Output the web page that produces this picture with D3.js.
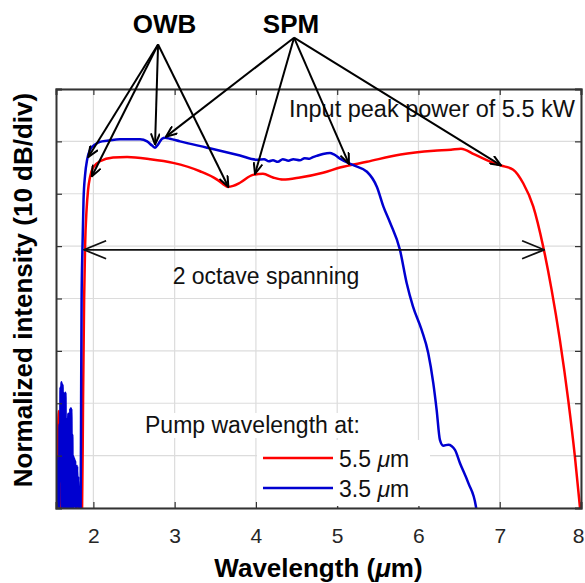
<!DOCTYPE html>
<html>
<head>
<meta charset="utf-8">
<script src="https://cdn.jsdelivr.net/npm/d3@7"></script>
<style>
  body { margin: 0; background: #fff; }
  text { font-family: Arial, "Liberation Sans", sans-serif; }
</style>
</head>
<body>
<div id="chart"></div>
<script>
// Axis ticks
const xTicks = [2, 3, 4, 5, 6, 7, 8];
const yTicks = [0, -10, -20, -30, -40, -50, -60, -70, -80];

// Spectrum for 5.5 um pump, [wavelength (um), intensity (dB)]
const redSeries = [
  [1.53, -80], [1.55, -80], [1.565, -66], [1.575, -61.5], [1.585, -75], [1.60, -80],
  [1.62, -77], [1.635, -80], [1.66, -78], [1.68, -80], [1.72, -80], [1.76, -78],
  [1.80, -80], [1.84, -80], [1.861, -80], [1.873, -59.4], [1.886, -40.3], [1.898, -30.0],
  [1.916, -23.1], [1.935, -19.2], [1.959, -16.8], [1.996, -15.0], [2.082, -13.8],
  [2.242, -13.1], [2.415, -13.0], [2.697, -13.4], [2.980, -14.1], [3.312, -15.7],
  [3.522, -17.3], [3.60, -18.2], [3.657, -18.7], [3.72, -18.5], [3.804, -17.9],
  [3.964, -16.4], [4.087, -16.2], [4.210, -16.9], [4.333, -17.3], [4.542, -16.9],
  [4.825, -16.0], [5.034, -15.0], [5.366, -13.9], [5.781, -12.5], [6.191, -11.8],
  [6.40, -11.6], [6.523, -11.4], [6.689, -12.5], [6.892, -13.9], [7.015, -14.6],
  [7.166, -15.4], [7.289, -18.0], [7.412, -22.4], [7.535, -30.1], [7.638, -38.3],
  [7.740, -47.9], [7.843, -59.4], [7.925, -70.2], [7.986, -79.7], [8.02, -85]
];

// Spectrum for 3.5 um pump
const blueSeries = [
  [1.53, -78], [1.536, -62], [1.542, -80], [1.548, -70], [1.554, -80], [1.560, -72],
  [1.566, -78], [1.572, -71], [1.578, -80], [1.584, -64], [1.590, -75], [1.596, -57],
  [1.602, -72], [1.608, -56], [1.614, -80], [1.620, -56.5], [1.626, -70], [1.632, -58],
  [1.638, -80], [1.644, -59], [1.650, -72], [1.656, -58], [1.662, -80], [1.668, -63],
  [1.674, -80], [1.680, -64], [1.686, -76], [1.692, -62], [1.698, -80], [1.704, -62],
  [1.710, -74], [1.716, -61], [1.722, -80], [1.728, -61], [1.734, -72], [1.740, -66],
  [1.746, -80], [1.752, -70], [1.758, -80], [1.764, -70.5], [1.770, -78], [1.776, -71],
  [1.782, -80], [1.788, -72], [1.794, -80], [1.800, -72], [1.806, -78], [1.812, -74],
  [1.818, -80], [1.824, -76], [1.830, -80], [1.843, -80], [1.849, -59.4], [1.855, -40.3],
  [1.865, -30.7], [1.879, -21.1], [1.898, -16.4], [1.923, -13.5], [1.959, -11.6],
  [2.021, -10.6], [2.082, -10.1], [2.169, -9.9], [2.328, -9.6], [2.574, -9.6],
  [2.661, -10.0], [2.722, -10.8], [2.759, -11.2], [2.796, -10.6], [2.845, -9.5],
  [2.882, -9.3], [2.943, -9.5], [3.066, -10.0], [3.398, -11.2], [3.804, -12.7],
  [4.013, -13.5], [4.10, -13.4], [4.16, -13.8], [4.21, -13.6], [4.27, -13.9],
  [4.33, -13.4], [4.40, -13.7], [4.46, -13.4], [4.54, -13.6], [4.60, -13.2],
  [4.66, -13.3], [4.702, -13.0], [4.76, -12.7], [4.825, -12.4], [4.911, -12.2],
  [4.96, -12.5], [5.034, -13.3], [5.206, -14.6], [5.366, -15.8], [5.489, -18.7],
  [5.57, -22.5], [5.65, -25.5], [5.772, -30.7], [5.854, -37.0], [5.932, -41.5],
  [6.039, -46.0], [6.120, -50.4], [6.182, -56.1], [6.224, -61.3], [6.264, -67.0],
  [6.305, -68.1], [6.367, -67.9], [6.449, -68.9], [6.510, -71.4], [6.613, -75.2],
  [6.707, -79.7], [6.75, -85]
];

// Annotation arrows (data coords)
const owbOrigin = [2.796, 8.5];
const owbTips = [[1.938, -13.0], [1.980, -16.7], [2.759, -10.6], [3.661, -18.7]];
const spmOrigin = [4.469, 9.8];
const spmTips = [[2.894, -9.1], [3.989, -16.2], [5.145, -14.3], [7.015, -14.6]];
const spanEnds = [[1.886, -30.7], [7.546, -30.7]];

const legendLabels = ['5.5', '3.5'];

const W = 585, H = 583;
const margin = { top: 89, right: 4, bottom: 75, left: 56 };
const width = W - margin.left - margin.right;
const height = H - margin.top - margin.bottom;

const svg = d3.select('#chart').append('svg')
  .attr('width', W)
  .attr('height', H);

svg.append('rect').attr('width', W).attr('height', H).attr('fill', '#fff');

const defs = svg.append('defs');
defs.append('clipPath').attr('id', 'plot-clip')
  .append('rect').attr('width', width).attr('height', height);

// small open arrow head
defs.append('marker')
  .attr('id', 'head')
  .attr('viewBox', '0 0 13 10')
  .attr('refX', 12).attr('refY', 5)
  .attr('markerWidth', 13).attr('markerHeight', 10)
  .attr('markerUnits', 'userSpaceOnUse')
  .attr('orient', 'auto')
  .append('path')
  .attr('d', 'M1,0.5 L12,5 L1,9.5')
  .attr('fill', 'none').attr('stroke', '#000').attr('stroke-width', 2);

// bigger head for the span arrow
defs.append('marker')
  .attr('id', 'bighead')
  .attr('viewBox', '0 0 24 20')
  .attr('refX', 23).attr('refY', 10)
  .attr('markerWidth', 24).attr('markerHeight', 20)
  .attr('markerUnits', 'userSpaceOnUse')
  .attr('orient', 'auto-start-reverse')
  .append('path')
  .attr('d', 'M1,1 L23,10 L1,19')
  .attr('fill', 'none').attr('stroke', '#111').attr('stroke-width', 1.8);

const g = svg.append('g')
  .attr('transform', `translate(${margin.left},${margin.top})`);

const x = d3.scaleLinear().domain([1.54, 8]).range([0, width]);
const y = d3.scaleLinear().domain([-80, 0]).range([height, 0]);

// grid
g.append('g')
  .selectAll('line.vg')
  .data(xTicks)
  .join('line')
  .attr('x1', d => x(d)).attr('x2', d => x(d))
  .attr('y1', 0).attr('y2', height)
  .attr('stroke', '#dcdcdc').attr('stroke-width', 1.2);

g.append('g')
  .selectAll('line.hg')
  .data(yTicks)
  .join('line')
  .attr('x1', 0).attr('x2', width)
  .attr('y1', d => y(d)).attr('y2', d => y(d))
  .attr('stroke', '#dcdcdc').attr('stroke-width', 1.2);

// curves
const line = d3.line()
  .x(d => x(d[0]))
  .y(d => y(d[1]))
  .curve(d3.curveMonotoneX);

const plot = g.append('g').attr('clip-path', 'url(#plot-clip)');
plot.append('path').datum(redSeries)
  .attr('d', line).attr('fill', 'none')
  .attr('stroke', '#ff0000').attr('stroke-width', 2.5);
plot.append('path').datum(blueSeries)
  .attr('d', line).attr('fill', 'none')
  .attr('stroke', '#0000d0').attr('stroke-width', 2.5);

// axes box, ticks inward
const tickLen = 6;
const xAxisB = d3.axisBottom(x).tickValues(xTicks).tickSize(-tickLen).tickPadding(tickLen + 14).tickFormat(d3.format('d'));
const xAxisT = d3.axisTop(x).tickValues(xTicks).tickSize(-tickLen).tickFormat('');
const yAxisL = d3.axisLeft(y).tickValues(yTicks).tickSize(-tickLen).tickFormat('');
const yAxisR = d3.axisRight(y).tickValues(yTicks).tickSize(-tickLen).tickFormat('');

function styleAxis(sel) {
  sel.select('.domain').attr('stroke', '#333').attr('stroke-width', 2);
  sel.selectAll('.tick line').attr('stroke', '#333').attr('stroke-width', 1.2);
}

const xLabels = g.append('g').attr('transform', `translate(0,${height})`).call(xAxisB).call(styleAxis)
  .selectAll('text')
  .attr('font-size', 21)
  .attr('fill', '#262626')
  .style('font-family', 'Arial, "Liberation Sans", sans-serif');
// keep the last label inside the window
xLabels.filter(d => d === 8).attr('dx', -3);
g.append('g').call(xAxisT).call(styleAxis);
g.append('g').call(yAxisL).call(styleAxis);
g.append('g').attr('transform', `translate(${width},0)`).call(yAxisR).call(styleAxis);

// axis titles
const xTitle = svg.append('text')
  .attr('x', margin.left + width / 2)
  .attr('y', 577)
  .attr('text-anchor', 'middle')
  .attr('font-size', 26)
  .attr('font-weight', 'bold')
  .attr('fill', '#000');
xTitle.append('tspan').text('Wavelength (');
xTitle.append('tspan').attr('font-style', 'italic').text('\u03bc');
xTitle.append('tspan').text('m)');

svg.append('text')
  .attr('transform', 'translate(32,290) rotate(-90)')
  .attr('text-anchor', 'middle')
  .attr('font-size', 26)
  .attr('font-weight', 'bold')
  .attr('fill', '#000')
  .text('Normalized intensity (10 dB/div)');

// annotation text
g.append('text')
  .attr('x', 575 - margin.left)
  .attr('y', 117 - margin.top)
  .attr('text-anchor', 'end')
  .attr('font-size', 23.5)
  .attr('fill', '#111')
  .text('Input peak power of 5.5 kW');

g.append('text')
  .attr('x', 266 - margin.left)
  .attr('y', 284 - margin.top)
  .attr('text-anchor', 'middle')
  .attr('font-size', 23)
  .attr('fill', '#111')
  .text('2 octave spanning');

svg.append('text')
  .attr('x', 164.5).attr('y', 33)
  .attr('text-anchor', 'middle')
  .attr('font-size', 26).attr('font-weight', 'bold')
  .text('OWB');
svg.append('text')
  .attr('x', 291).attr('y', 33)
  .attr('text-anchor', 'middle')
  .attr('font-size', 26).attr('font-weight', 'bold')
  .text('SPM');

// arrows
function drawArrows(origin, tips) {
  g.append('g')
    .selectAll('line')
    .data(tips)
    .join('line')
    .attr('x1', x(origin[0])).attr('y1', y(origin[1]))
    .attr('x2', d => x(d[0])).attr('y2', d => y(d[1]))
    .attr('stroke', '#000').attr('stroke-width', 2)
    .attr('marker-end', 'url(#head)');
}
drawArrows(owbOrigin, owbTips);
drawArrows(spmOrigin, spmTips);

g.append('line')
  .attr('x1', x(spanEnds[0][0])).attr('y1', y(spanEnds[0][1]))
  .attr('x2', x(spanEnds[1][0])).attr('y2', y(spanEnds[1][1]))
  .attr('stroke', '#111').attr('stroke-width', 1.8)
  .attr('marker-start', 'url(#bighead)')
  .attr('marker-end', 'url(#bighead)');

// legend
svg.append('rect')
  .attr('x', 140).attr('y', 413).attr('width', 226).attr('height', 25)
  .attr('fill', '#fff');
svg.append('text')
  .attr('x', 145).attr('y', 433)
  .attr('font-size', 23).attr('fill', '#111')
  .text('Pump wavelength at:');

svg.append('rect')
  .attr('x', 257).attr('y', 440).attr('width', 173).attr('height', 66)
  .attr('fill', '#fff');

const legendColors = ['#ff0000', '#0000d0'];
const legend = svg.append('g')
  .selectAll('g')
  .data(legendLabels)
  .join('g')
  .attr('transform', (d, i) => `translate(263,${458 + i * 30})`);
legend.append('line')
  .attr('x1', 0).attr('x2', 70)
  .attr('stroke', (d, i) => legendColors[i])
  .attr('stroke-width', 2.5);
const lt = legend.append('text')
  .attr('x', 76).attr('y', 9)
  .attr('font-size', 23).attr('fill', '#111');
lt.append('tspan').text(d => d + ' ');
lt.append('tspan').attr('font-style', 'italic').text('\u03bc');
lt.append('tspan').text('m');
</script>
</body>
</html>
